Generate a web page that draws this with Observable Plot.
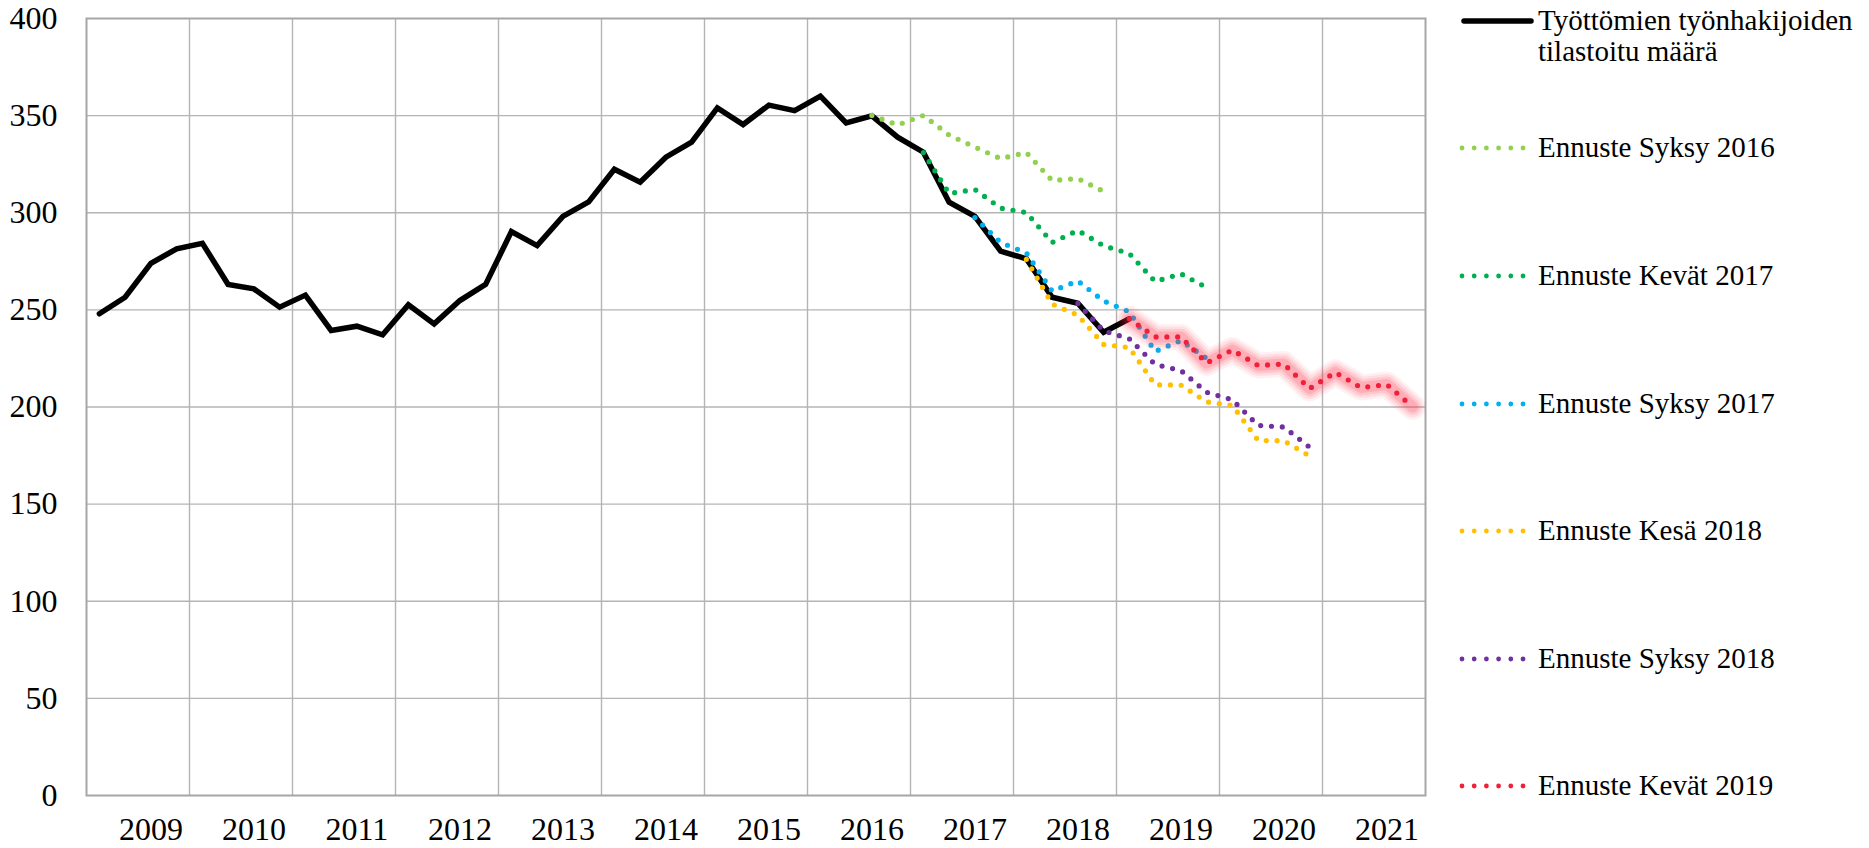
<!DOCTYPE html>
<html>
<head>
<meta charset="utf-8">
<script src="https://cdn.jsdelivr.net/npm/d3@7"></script>
<script src="https://cdn.jsdelivr.net/npm/@observablehq/plot@0.6"></script>
<style>
  html, body { margin: 0; padding: 0; background: #fff; }
  #wrap { position: relative; width: 1869px; height: 848px; overflow: hidden; }
  #chart svg text { font-family: "Liberation Serif", "Times New Roman", serif; font-size: 32px; fill: #000; }
  .leg { position: absolute; font-family: "Liberation Serif", "Times New Roman", serif; font-size: 29px; line-height: 31px; color: #000; white-space: pre; }
  .sw { position: absolute; }
</style>
</head>
<body>
<div id="wrap"><div id="chart"></div><div id="legend"></div></div>
<script>
// ---- data (thousands), quarterly categories; index 0 = first quarter shown ----
const years = [2009, 2010, 2011, 2012, 2013, 2014, 2015, 2016, 2017, 2018, 2019, 2020, 2021];
const yTicks = [0, 50, 100, 150, 200, 250, 300, 350, 400];

const actualName = "Työttömien työnhakijoiden\ntilastoitu määrä";
const actual = [248.0, 256.5, 274.0, 281.4, 284.3, 263.1, 260.8, 251.4, 257.6, 239.4,
  241.6, 237.2, 252.6, 242.8, 254.8, 263.1, 290.3, 283.1, 298.1, 305.6,
  322.4, 315.7, 328.6, 336.3, 354.0, 345.4, 355.4, 352.6, 360.0, 346.3,
  349.9, 338.9, 331.2, 305.4, 298.1, 280.2, 276.3, 256.5, 253.4, 238.5, 245.4];

const fcNames  = ["Ennuste Syksy 2016", "Ennuste Kevät 2017", "Ennuste Syksy 2017", "Ennuste Kesä 2018", "Ennuste Syksy 2018", "Ennuste Kevät 2019"];
const fcColors = ["#92d050", "#00b050", "#00b0f0", "#ffc000", "#7030a0", "#f0203a"];
const fcStart  = [30, 32, 34, 36, 38, 40];
const syksy2016 = [350.1, 345.2, 350.1, 340.0, 333.8, 327.9, 331.0, 316.6, 317.6, 311.0];
const kevat2017 = [331.0, 309.9, 312.0, 302.4, 300.1, 284.7, 290.9, 283.0, 279.0, 264.6, 268.6, 261.5];
const syksy2017 = [297.5, 284.7, 279.3, 259.7, 264.9, 254.6, 249.0, 228.6, 234.2, 225.0];
const kesa2018  = [276.0, 253.0, 247.3, 232.2, 230.6, 211.4, 211.3, 202.6, 200.8, 182.8, 182.6, 174.8];
const syksy2018 = [253.3, 239.2, 235.1, 221.9, 218.8, 207.6, 203.7, 190.5, 189.7, 179.3];
const kevat2019 = [245.4, 236.1, 236.1, 222.7, 229.3, 221.4, 222.1, 209.5, 217.8, 210.0, 211.6, 200.1];
const fcValues = [syksy2016, kevat2017, syksy2017, kesa2018, syksy2018, kevat2019];

// ---- build tables ----
const nCat = years.length * 4;
const actualData = actual.map((v, j) => ({q: j + 0.5, v}));
const fcData = fcValues.map((arr, s) => arr.map((v, j) => ({q: fcStart[s] + j + 0.5, v})));
const gridX = d3.range(0, nCat + 1, 4);
const yearPos = years.map((y, k) => 4 * k + 2.5);

const dot = {strokeWidth: 5.2, strokeDasharray: "0 10.8", strokeLinecap: "round", strokeLinejoin: "round"};

const marks = [
  Plot.ruleY(yTicks.slice(1, -1), {stroke: "#b4b4b4", strokeWidth: 1.4}),
  Plot.ruleX(gridX.slice(1, -1), {stroke: "#b4b4b4", strokeWidth: 1.4}),
  Plot.frame({stroke: "#a6a6a6", strokeWidth: 2}),
  Plot.line(actualData, {x: "q", y: "v", stroke: "#000", strokeWidth: 5.5, strokeLinejoin: "miter", strokeMiterlimit: 3})
];
for (let s = 0; s < 5; s++) {
  marks.push(Plot.line(fcData[s], {x: "q", y: "v", stroke: fcColors[s], ...dot}));
}
// soft glow around the latest forecast: stacked translucent strokes
const glowLayers = [[26, 0.07], [21, 0.09], [16, 0.12], [11, 0.16]];
for (const [w, o] of glowLayers) {
  marks.push(Plot.line(fcData[5], {x: "q", y: "v", stroke: "#ff2a45", strokeOpacity: o, strokeWidth: w, strokeLinecap: "round", strokeLinejoin: "round"}));
}
marks.push(Plot.line(fcData[5], {x: "q", y: "v", stroke: fcColors[5], ...dot}));

const chart = Plot.plot({
  width: 1869,
  height: 848,
  marginLeft: 86,
  marginRight: 444,
  marginTop: 18,
  marginBottom: 53,
  style: {background: "#fff", color: "#000", fontFamily: "Liberation Serif, serif", fontSize: "32px"},
  x: {type: "linear", domain: [0, nCat], ticks: yearPos, tickFormat: d => String(years[Math.round((d - 2.5) / 4)]), tickSize: 0, tickPadding: 22, label: null},
  y: {type: "linear", domain: [0, 400], ticks: yTicks, tickSize: 0, tickPadding: 29, label: null},
  marks
});
document.getElementById("chart").appendChild(chart);

// ---- legend ----
const leg = d3.select("#legend");
const legNames = [actualName, ...fcNames];
const legColors = ["#000", ...fcColors];
legNames.forEach((name, k) => {
  const cy = 20.7 + 127.6 * k;
  const sw = leg.append("svg").attr("class", "sw").attr("width", 84).attr("height", 16)
    .style("left", "1452px").style("top", (cy - 8) + "px");
  if (k === 0) {
    sw.append("line").attr("x1", 12).attr("x2", 79).attr("y1", 8).attr("y2", 8)
      .attr("stroke", "#000").attr("stroke-width", 5.5).attr("stroke-linecap", "round");
  } else {
    sw.append("line").attr("x1", 10).attr("x2", 72).attr("y1", 8).attr("y2", 8)
      .attr("stroke", legColors[k]).attr("stroke-width", 4.8).attr("stroke-linecap", "round")
      .attr("stroke-dasharray", "0 12.2");
  }
  leg.append("div").attr("class", "leg").style("left", "1538px").style("top", (cy - 16) + "px").text(name);
});
</script>
</body>
</html>
